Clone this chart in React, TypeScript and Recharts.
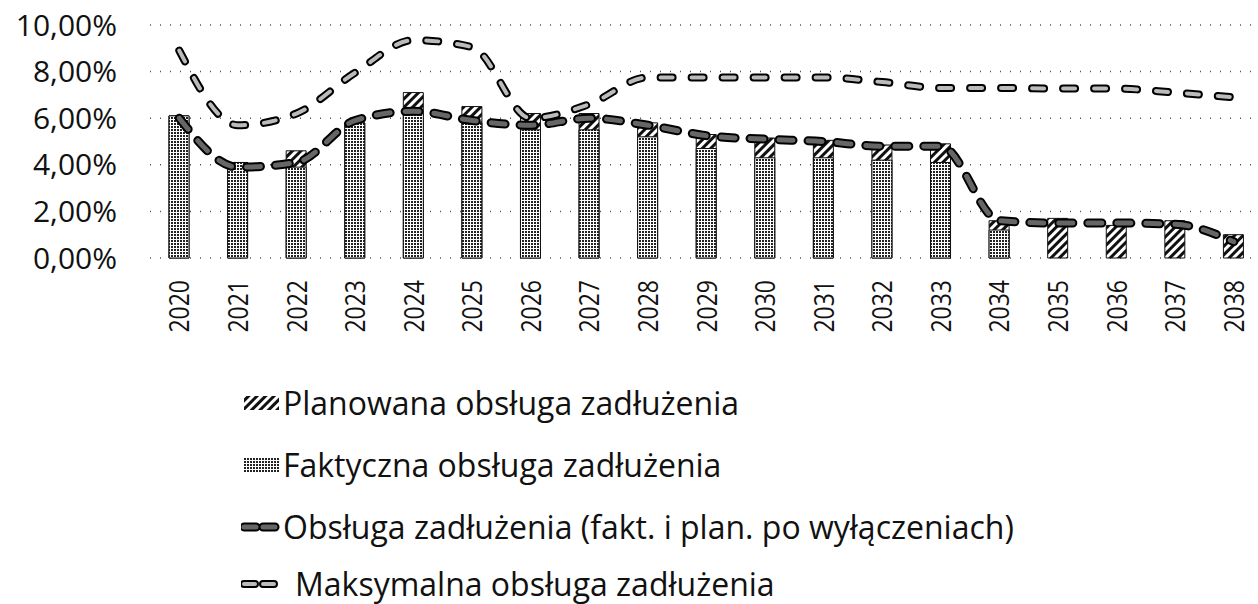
import React from 'react';
import { ComposedChart, Bar, Line, XAxis, YAxis, CartesianGrid, Legend } from 'recharts';

const years = ['2020','2021','2022','2023','2024','2025','2026','2027','2028','2029','2030','2031','2032','2033','2034','2035','2036','2037','2038'];
const planned = [6.1, 4.1, 4.6, 5.8, 7.1, 6.5, 6.2, 6.2, 5.8, 5.3, 5.15, 5.05, 4.85, 4.9, 1.6, 1.7, 1.4, 1.6, 1.0];
const actual = [6.1, 4.1, 3.9, 5.8, 6.2, 5.8, 5.5, 5.5, 5.2, 4.7, 4.3, 4.3, 4.2, 4.1, 1.2, null, null, null, null];
const debtService = [6.0, 3.9, 4.1, 5.9, 6.3, 5.9, 5.7, 6.0, 5.7, 5.25, 5.1, 5.0, 4.8, 4.8, 1.6, 1.5, 1.5, 1.45, 0.7];
const maxService = [8.9, 5.7, 6.2, 7.95, 9.35, 9.05, 6.0, 6.6, 7.75, 7.75, 7.75, 7.75, 7.55, 7.3, 7.3, 7.27, 7.27, 7.1, 6.9];
const yTicks = [0, 2, 4, 6, 8, 10];
const legendLabels = [
  'Planowana obsługa zadłużenia',
  'Faktyczna obsługa zadłużenia',
  'Obsługa zadłużenia (fakt. i plan. po wyłączeniach)',
  'Maksymalna obsługa zadłużenia',
];

const data = years.map((y, i) => ({
  year: y,
  planned: planned[i],
  actual: actual[i],
  debt: debtService[i],
  max: maxService[i],
}));

const FONT = '"Open Sans", "Noto Sans", sans-serif';

const fmt = (v: number) => v.toFixed(2).replace('.', ',') + '%';

const XTick = (props: any) => {
  const { x, y, payload } = props;
  return (
    <g transform={`translate(${x},${y})`}>
      <text
        transform="rotate(-90) scale(0.82,1)"
        textAnchor="end"
        dy="0.36em"
        fontSize={28}
        fontFamily={FONT}
        fill="#111"
      >
        {payload.value}
      </text>
    </g>
  );
};

const Patterns = ({ prefix }: { prefix: string }) => (
  <defs>
    <pattern id={`${prefix}diag`} patternUnits="userSpaceOnUse" width="6" height="6" patternTransform="rotate(45)">
      <rect x="0" y="0" width="6" height="6" fill="#fff" />
      <rect x="0" y="0" width="3" height="6" fill="#111" />
    </pattern>
    <pattern id={`${prefix}grid`} patternUnits="userSpaceOnUse" width="3" height="3">
      <rect x="0" y="0" width="3" height="3" fill="#fff" />
      <rect x="0" y="0" width="2" height="2" fill="#222" />
    </pattern>
  </defs>
);

const renderLegend = () => {
  const rowStyle: React.CSSProperties = { display: 'flex', alignItems: 'center', height: 62 };
  const textStyle: React.CSSProperties = { fontFamily: FONT, fontSize: 32, color: '#111', marginLeft: 2, whiteSpace: 'nowrap', lineHeight: '40px' };
  return (
    <div style={{ width: 900 }}>
      <div style={rowStyle}>
        <svg width={40} height={20}>
          <Patterns prefix="lg" />
          <rect x={3} y={3} width={35} height={14} fill="url(#lgdiag)" />
        </svg>
        <span style={textStyle}>{legendLabels[0]}</span>
      </div>
      <div style={rowStyle}>
        <svg width={40} height={20}>
          <Patterns prefix="lg2" />
          <rect x={3} y={3} width={35} height={14} fill="url(#lg2grid)" />
        </svg>
        <span style={textStyle}>{legendLabels[1]}</span>
      </div>
      <div style={rowStyle}>
        <svg width={40} height={20}>
          <line x1={3} y1={10} x2={38} y2={10} stroke="#000" strokeWidth={9} strokeDasharray="12 7" strokeLinecap="round" />
          <line x1={3} y1={10} x2={38} y2={10} stroke="#666" strokeWidth={5} strokeDasharray="12 7" strokeLinecap="round" />
        </svg>
        <span style={textStyle}>{legendLabels[2]}</span>
      </div>
      <div style={{ ...rowStyle, height: 52 }}>
        <svg width={40} height={20}>
          <line x1={3} y1={10} x2={38} y2={10} stroke="#000" strokeWidth={8} strokeDasharray="11 8" strokeLinecap="round" />
          <line x1={3} y1={10} x2={38} y2={10} stroke="#bbb" strokeWidth={4} strokeDasharray="11 8" strokeLinecap="round" />
        </svg>
        <span style={{ ...textStyle, marginLeft: 14 }}>{legendLabels[3]}</span>
      </div>
    </div>
  );
};

export default function App() {
  return (
    <div style={{ position: 'absolute', left: 0, top: 0, width: 1258, height: 604, overflow: 'hidden', background: '#fff' }}>
      <ComposedChart
        width={1275}
        height={604}
        data={data}
        margin={{ top: 25, right: 12, bottom: 256, left: 0 }}
      >
        <Patterns prefix="ch" />
        <CartesianGrid xAxisId="a" vertical={false} stroke="#555" strokeDasharray="1 9" strokeWidth={1.5} />
        <XAxis
          xAxisId="a"
          dataKey="year"
          interval={0}
          height={90}
          axisLine={false}
          tickLine={false}
          tickSize={0}
          tickMargin={22}
          tick={<XTick />}
        />
        <XAxis xAxisId="b" dataKey="year" hide />
        <YAxis
          width={150}
          domain={[0, 10]}
          ticks={yTicks}
          tickFormatter={fmt}
          axisLine={false}
          tickLine={false}
          tickSize={0}
          tickMargin={33}
          tick={{ fontSize: 30, fontFamily: FONT, fill: '#111' }}
        />
        <Bar xAxisId="a" dataKey="planned" barSize={20} fill="url(#chdiag)" stroke="#111" strokeWidth={1} isAnimationActive={false} />
        <Bar xAxisId="b" dataKey="actual" barSize={20} fill="url(#chgrid)" stroke="#111" strokeWidth={1} isAnimationActive={false} />
        <Line xAxisId="a" type="monotone" dataKey="max" stroke="#000" strokeWidth={8} strokeDasharray="12 19" strokeLinecap="round" dot={false} activeDot={false} legendType="none" isAnimationActive={false} />
        <Line xAxisId="a" type="monotone" dataKey="max" stroke="#bbb" strokeWidth={4} strokeDasharray="12 19" strokeLinecap="round" dot={false} activeDot={false} legendType="none" isAnimationActive={false} />
        <Line xAxisId="a" type="monotone" dataKey="debt" stroke="#000" strokeWidth={9} strokeDasharray="14 15" strokeLinecap="round" dot={false} activeDot={false} legendType="none" isAnimationActive={false} />
        <Line xAxisId="a" type="monotone" dataKey="debt" stroke="#666" strokeWidth={5} strokeDasharray="14 15" strokeLinecap="round" dot={false} activeDot={false} legendType="none" isAnimationActive={false} />
        <Legend
          layout="vertical"
          align="center"
          verticalAlign="middle"
          wrapperStyle={{ left: 241, top: 372, width: 900 }}
          content={renderLegend}
        />
      </ComposedChart>
    </div>
  );
}
